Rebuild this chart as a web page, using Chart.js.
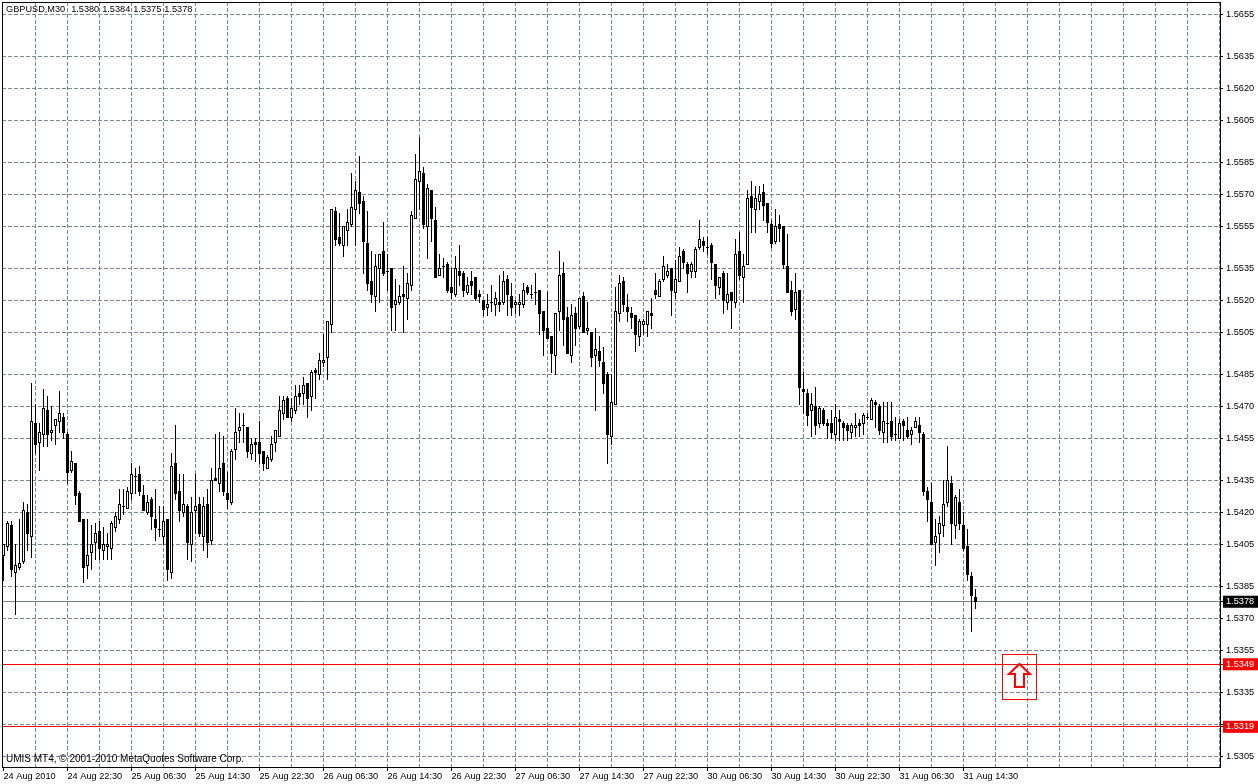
<!DOCTYPE html>
<html>
<head>
<meta charset="utf-8">
<title>GBPUSD,M30</title>
<script src="https://cdn.jsdelivr.net/npm/chart.js@4/dist/chart.umd.js"></script>
<style>
    html, body { margin: 0; padding: 0; background: #fff; }
    #wrap { position: relative; width: 1258px; height: 784px; overflow: hidden; }
    canvas { display: block; }
    .note { position: absolute; left: 6px; color: #000; white-space: pre; font-family: "Liberation Sans", sans-serif; }
    #header { top: 4px; font-size: 9.2px; word-spacing: 0.4px; }
    #footer { top: 753px; font-size: 10px; }
</style>
</head>
<body>
<div id="wrap">
    <canvas id="priceChart" width="1258" height="784"></canvas>
    <div class="note" id="header">GBPUSD,M30  1.5380 1.5384 1.5375 1.5378</div>
    <div class="note" id="footer">UMIS MT4, © 2001-2010 MetaQuotes Software Corp.</div>
</div>
<script>
// All prices are the four digits after "1.", so 5378 means 1.5378
const opens = [
    5400,5404,5414,5392,5394,5397,5420,5409,5462,5453,5457,5468,5458,5461,5463,5465,
    5457,5440,5443,5429,5417,5395,5401,5406,5411,5402,5404,5403,5413,5417,5423,5422,
    5429,5437,5438,5428,5420,5426,5417,5412,5409,5417,5392,5443,5430,5420,5423,5405,
    5421,5424,5409,5424,5407,5436,5434,5443,5429,5425,5450,5459,5461,5460,
    5448,5453,5453,5449,5441,5445,5453,5456,5467,5474,5465,5468,5476,5476,5481,5475,
    5487,5485,5491,5493,5509,5562,5550,5546,5553,5556,5563,5571,5567,5547,5529,5522,
    5535,5543,5534,5535,5518,5519,5523,5521,5527,5559,5576,5580,5555,5572,5558,5532,
    5536,5537,5526,5523,5534,5533,5524,5529,5531,5523,5520,5517,5519,5518,5519,
    5519,5530,5522,5518,5518,5518,5526,5523,5524,5525,5515,5507,5503,5494,5515,5533,
    5512,5494,5514,5508,5522,5506,5505,5494,5496,5491,5485,5456,5471,5514,5529,5517,
    5514,5513,5503,5509,5509,5514,5525,5522,5530,5532,5535,5524,5529,5543,5537,5534,
    5534,5545,5548,5545,5546,5537,5526,5533,
    5519,5524,5519,5543,5531,5537,5569,5563,5567,5571,5566,5556,5548,5556,5555,5536,
    5525,5516,5525,5478,5476,5468,5470,5462,5468,5462,5462,5457,5464,5462,5461,5458,
    5460,5462,5462,5465,5464,5472,5470,5458,5462,5463,5457,5455,5463,5459,5457,5460,5461,
    5457,5430,5425,5406,5410,5414,5425,5434,5414,5425,5414,5404,5390,5380
];
const highs = [
    5405,5416,5416,5405,5417,5425,5424,5481,5471,5462,5478,5475,5470,5464,5477,5467,
    5458,5449,5443,5430,5417,5417,5414,5415,5416,5413,5410,5416,5420,5431,5431,5432,
    5443,5441,5442,5433,5428,5427,5431,5423,5423,5417,5448,5461,5438,5438,5424,5427,
    5438,5427,5427,5431,5441,5457,5458,5456,5439,5450,5469,5467,5467,5460,
    5455,5455,5463,5449,5447,5456,5459,5475,5475,5475,5474,5480,5480,5484,5481,5487,
    5488,5495,5504,5510,5563,5564,5561,5555,5563,5580,5576,5588,5569,5562,5543,5542,
    5542,5557,5542,5535,5530,5527,5536,5533,5562,5589,5597,5583,5575,5572,5564,5542,
    5540,5538,5535,5541,5546,5534,5531,5534,5531,5525,5520,5523,5527,5524,5532,
    5534,5532,5528,5520,5523,5528,5527,5527,5533,5525,5515,5524,5503,5514,5543,5538,
    5517,5518,5517,5521,5524,5519,5505,5507,5503,5498,5486,5485,5526,5532,5531,5523,
    5517,5513,5511,5511,5515,5521,5533,5530,5541,5537,5535,5539,5545,5544,5538,5538,
    5545,5558,5550,5550,5547,5537,5531,5534,
    5533,5524,5549,5552,5542,5572,5576,5574,5574,5575,5566,5558,5563,5560,5555,5551,
    5529,5533,5525,5486,5478,5476,5479,5470,5469,5464,5468,5471,5468,5463,5462,5462,
    5467,5464,5467,5467,5474,5473,5471,5472,5472,5472,5465,5464,5464,5465,5460,5465,5465,
    5458,5432,5434,5417,5418,5435,5451,5437,5428,5431,5420,5412,5392,5384
];
const lows = [
    5388,5402,5390,5372,5393,5396,5402,5399,5448,5440,5451,5451,5454,5452,5458,5455,
    5434,5439,5424,5416,5387,5389,5393,5398,5398,5398,5398,5398,5411,5415,5419,5422,
    5426,5429,5428,5421,5419,5412,5407,5409,5405,5388,5389,5426,5416,5418,5398,5397,
    5410,5409,5402,5399,5405,5435,5430,5428,5422,5424,5445,5453,5453,5446,
    5445,5444,5443,5440,5441,5444,5449,5456,5464,5465,5463,5467,5471,5471,5465,5468,
    5474,5483,5489,5483,5505,5546,5546,5541,5546,5555,5546,5561,5533,5525,5519,5515,
    5519,5532,5525,5506,5506,5518,5505,5511,5525,5559,5563,5554,5540,5548,5531,5532,
    5531,5524,5521,5522,5527,5522,5523,5523,5520,5519,5513,5513,5515,5513,5515,
    5518,5513,5513,5514,5513,5517,5523,5521,5518,5504,5494,5502,5486,5485,5506,5499,
    5495,5491,5499,5507,5505,5504,5489,5468,5489,5476,5443,5452,5471,5510,5515,5510,
    5507,5496,5499,5504,5503,5507,5521,5522,5529,5531,5513,5521,5529,5535,5524,5531,
    5531,5544,5543,5542,5530,5521,5523,5514,
    5516,5507,5517,5530,5519,5537,5552,5552,5563,5558,5552,5545,5547,5548,5535,5524,
    5513,5511,5471,5467,5461,5456,5457,5460,5461,5455,5455,5454,5454,5454,5454,5455,
    5456,5456,5457,5464,5464,5460,5457,5453,5453,5454,5454,5455,5454,5455,5452,5460,5453,
    5428,5416,5405,5395,5401,5409,5423,5405,5408,5412,5402,5388,5364,5375
];
const closes = [
    5405,5415,5393,5395,5396,5421,5410,5463,5452,5458,5469,5457,5459,5464,5467,5458,
    5439,5444,5428,5416,5394,5400,5405,5410,5403,5405,5405,5415,5418,5424,5423,5430,
    5438,5437,5430,5421,5425,5418,5413,5412,5416,5393,5442,5429,5421,5424,5406,5420,
    5423,5410,5423,5406,5435,5435,5441,5430,5426,5449,5458,5460,5461,5449,
    5452,5452,5448,5443,5446,5452,5459,5468,5473,5465,5469,5475,5475,5480,5474,5486,
    5486,5492,5492,5510,5563,5549,5547,5555,5557,5564,5572,5566,5548,5528,5523,5536,
    5542,5533,5534,5517,5520,5522,5522,5528,5560,5577,5581,5556,5573,5559,5531,5535,
    5536,5525,5524,5535,5532,5525,5527,5527,5521,5522,5516,5518,5519,5521,5518,
    5529,5523,5517,5519,5519,5525,5524,5523,5524,5514,5506,5502,5495,5514,5532,5511,
    5495,5513,5507,5521,5505,5507,5493,5497,5492,5481,5457,5472,5515,5528,5518,5515,
    5512,5504,5510,5510,5515,5513,5523,5529,5536,5534,5525,5530,5541,5538,5533,5537,
    5544,5549,5546,5545,5538,5527,5531,5520,
    5523,5520,5542,5532,5536,5568,5564,5568,5570,5565,5557,5547,5555,5554,5537,5524,
    5515,5524,5479,5477,5466,5471,5461,5469,5462,5461,5458,5465,5463,5460,5459,5461,
    5461,5461,5466,5465,5473,5471,5459,5463,5462,5456,5457,5462,5461,5456,5459,5463,5458,
    5430,5426,5405,5409,5415,5424,5435,5415,5427,5415,5403,5391,5381,5378
];

// Dashed price grid, taken from the right hand scale
const gridPrices = [5655,5635,5620,5605,5585,5570,5555,5535,5520,5505,5485,5470,5455,5435,5420,5405,5385,5370,5355,5335,5305];
// This grid level has its label hidden behind the 1.5319 tag
const hiddenGridPrices = [5320];
// Solid lines with a coloured tag on the scale (the tag shows them rounded)
const linePrices = [5378,5348.5,5319];
const lineColors = ['#708090','#ff0000','#ff0000'];
const tagColors = ['#000000','#ff0000','#ff0000'];
const timeLabels = ['24 Aug 2010','24 Aug 22:30','25 Aug 06:30','25 Aug 14:30','25 Aug 22:30','26 Aug 06:30','26 Aug 14:30','26 Aug 22:30',
    '27 Aug 06:30','27 Aug 14:30','27 Aug 22:30','30 Aug 06:30','30 Aug 14:30','30 Aug 22:30','31 Aug 06:30','31 Aug 14:30'];
// Bar number and price of the buy arrow
const arrowBar = [254];
const arrowPrice = [5342.5];

const GRID_COLOR = '#778899';
const TICK_FONT = { family: 'Liberation Sans', size: 9.2 };
const BARS_PER_GRID = 8;
const LAST_GRID_BAR = 304;
const X_MIN = -0.375;
const X_MAX = 304.125;

const candleIndex = opens.map((o, i) => i);

// MT4 style arrow inside its selection box, used as the point image
function makeArrowImage() {
    const c = document.createElement('canvas');
    c.width = 35;
    c.height = 46;
    const g = c.getContext('2d');
    g.strokeStyle = '#ff0000';
    g.lineWidth = 1;
    g.strokeRect(0.5, 0.5, 34, 45);
    g.lineWidth = 2;
    g.beginPath();
    g.moveTo(17.5, 10);
    g.lineTo(28, 20);
    g.lineTo(22, 20);
    g.lineTo(22, 33);
    g.lineTo(13, 33);
    g.lineTo(13, 20);
    g.lineTo(7, 20);
    g.closePath();
    g.stroke();
    return c;
}

// Snap candles, price lines and the arrow to whole pixels, MT4 draws them without any smoothing
const snapCandles = {
    id: 'snapCandles',
    afterDatasetsUpdate(chart) {
        [0, 1].forEach(d => {
            chart.getDatasetMeta(d).data.forEach(el => {
                const top = Math.floor(el.y);
                el.x = Math.floor(el.x) + 0.5;
                el.y = top;
                el.base = Math.max(Math.floor(el.base) + 1, top + 1);
            });
        });
        chart.data.datasets.forEach((ds, d) => {
            if (ds.type === 'line') {
                chart.getDatasetMeta(d).data.forEach(pt => { pt.y = Math.floor(pt.y) + 0.5; });
            }
            if (ds.type === 'scatter') {
                chart.getDatasetMeta(d).data.forEach(pt => { pt.x = Math.floor(pt.x) + 0.5; pt.y = Math.round(pt.y); });
            }
        });
    }
};

// Closes the box around the plot
const plotFrame = {
    id: 'plotFrame',
    afterDraw(chart) {
        const a = chart.chartArea;
        const ctx = chart.ctx;
        ctx.save();
        ctx.strokeStyle = '#000';
        ctx.lineWidth = 1;
        ctx.strokeRect(a.left + 0.5, a.top + 0.5, a.right - a.left, a.bottom - a.top);
        ctx.restore();
    }
};

const priceLineSets = linePrices.map((p, i) => ({
    type: 'line',
    label: '1.' + p.toFixed(0),
    data: [{ x: X_MIN, y: p }, { x: X_MAX, y: p }],
    borderColor: lineColors[i],
    borderWidth: 1,
    pointRadius: 0,
    tension: 0,
    order: 3
}));

new Chart(document.getElementById('priceChart'), {
    type: 'bar',
    data: {
        datasets: [
            {
                label: 'High-Low',
                data: candleIndex.map(i => ({ x: i, y: [lows[i], highs[i]] })),
                backgroundColor: '#000',
                barThickness: 1,
                grouped: false,
                inflateAmount: 0,
                order: 2
            },
            {
                label: 'Open-Close',
                data: candleIndex.map(i => ({ x: i, y: [Math.min(opens[i], closes[i]), Math.max(opens[i], closes[i])] })),
                backgroundColor: candleIndex.map(i => closes[i] > opens[i] ? '#fff' : '#000'),
                borderColor: '#000',
                borderWidth: 1,
                borderSkipped: false,
                barThickness: 3,
                grouped: false,
                inflateAmount: 0,
                order: 1
            },
            {
                type: 'scatter',
                label: 'Arrow',
                data: arrowBar.map((b, i) => ({ x: b, y: arrowPrice[i] })),
                pointStyle: makeArrowImage(),
                order: 0
            },
            ...priceLineSets
        ]
    },
    plugins: [snapCandles, plotFrame],
    options: {
        responsive: false,
        animation: false,
        layout: { autoPadding: false, padding: { left: 2, top: 2, right: 0, bottom: 0 } },
        plugins: { legend: { display: false }, tooltip: { enabled: false } },
        scales: {
            x: {
                type: 'linear',
                offset: false,
                min: X_MIN,
                max: X_MAX,
                afterBuildTicks(scale) {
                    const ticks = [];
                    for (let b = 0; b <= LAST_GRID_BAR; b += BARS_PER_GRID) ticks.push({ value: b });
                    scale.ticks = ticks;
                },
                afterFit(scale) {
                    scale.height = 17;
                    scale.paddingLeft = 0;
                    scale.paddingRight = 0;
                },
                border: { display: false, dash: [4, 2] },
                grid: {
                    offset: false,
                    color: ctx => ctx.index === 0 ? 'transparent' : GRID_COLOR,
                    lineWidth: 1,
                    drawTicks: true,
                    tickLength: 4,
                    tickBorderDash: [],
                    tickColor: ctx => (ctx.index % 2 === 0 && timeLabels[ctx.index / 2]) ? '#000' : 'transparent'
                },
                ticks: {
                    autoSkip: false,
                    maxRotation: 0,
                    align: 'start',
                    padding: 0,
                    color: '#000',
                    font: TICK_FONT,
                    callback: (value, index) => (index % 2 === 0 && timeLabels[index / 2]) || ''
                }
            },
            y: {
                position: 'right',
                min: 5300.05,
                max: 5660.9,
                afterBuildTicks(scale) {
                    scale.ticks = gridPrices.concat(hiddenGridPrices, linePrices).map(v => ({ value: v }));
                },
                afterFit(scale) {
                    scale.width = 38;
                    scale.paddingTop = 0;
                    scale.paddingBottom = 0;
                },
                border: { display: false, dash: [4, 2] },
                grid: {
                    drawTicks: true,
                    tickLength: 3,
                    tickBorderDash: [],
                    tickColor: '#000',
                    color: ctx => linePrices.includes(ctx.tick && ctx.tick.value) ? 'transparent' : GRID_COLOR
                },
                ticks: {
                    autoSkip: false,
                    padding: 3,
                    font: TICK_FONT,
                    color: ctx => linePrices.includes(ctx.tick.value) ? '#fff' : '#000',
                    showLabelBackdrop: ctx => linePrices.includes(ctx.tick.value),
                    backdropColor: ctx => tagColors[linePrices.indexOf(ctx.tick.value)] || 'transparent',
                    backdropPadding: { left: 3, right: 5, top: 0.5, bottom: 0.5 },
                    callback: value => hiddenGridPrices.includes(value) ? '' : '1.' + value.toFixed(0)
                }
            }
        }
    }
});
</script>
</body>
</html>
